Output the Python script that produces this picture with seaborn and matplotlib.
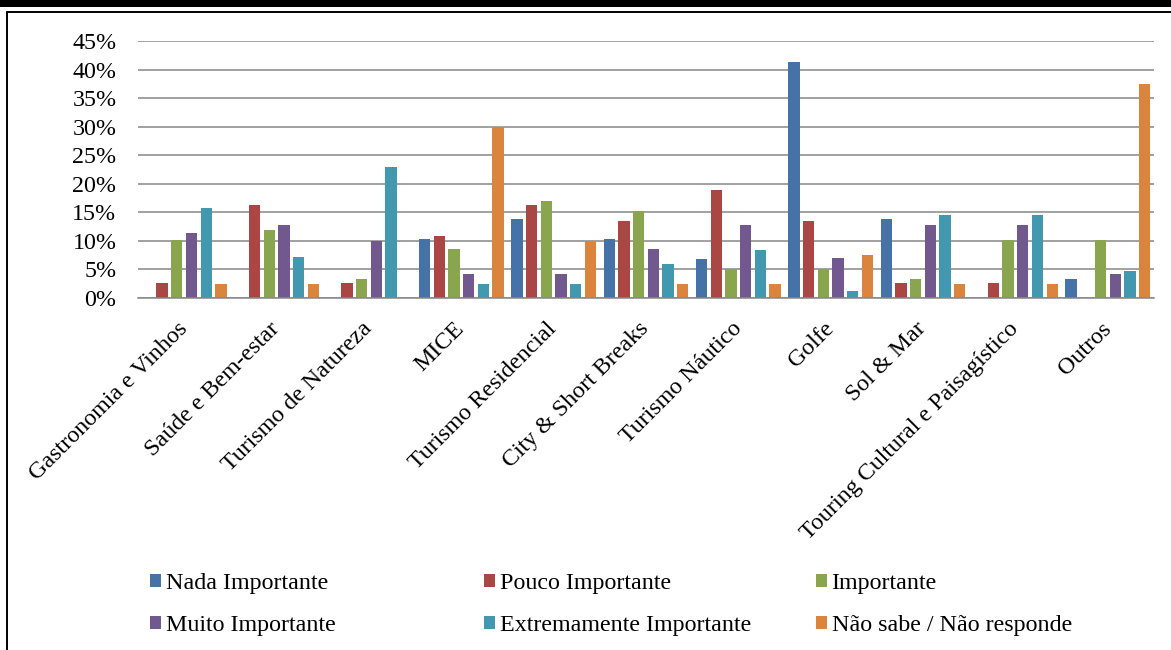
import matplotlib
matplotlib.use("Agg")
import matplotlib.pyplot as plt
from matplotlib.lines import Line2D
from matplotlib.patches import Rectangle, Patch
from matplotlib.ticker import PercentFormatter
import seaborn as sns
import pandas as pd

# Tourism products (x categories)
categories = [
    "Gastronomia e Vinhos", "Saúde e Bem-estar", "Turismo de Natureza", "MICE",
    "Turismo Residencial", "City & Short Breaks", "Turismo Náutico", "Golfe",
    "Sol & Mar", "Touring Cultural e Paisagístico", "Outros",
]

# Importance levels (legend entries)
levels = [
    "Nada Importante", "Pouco Importante", "Importante",
    "Muito Importante", "Extremamente Importante", "Não sabe / Não responde",
]

# Share of answers per level, in percent
nada_importante = [0.0, 0.0, 0.0, 10.3, 13.8, 10.3, 6.9, 41.4, 13.8, 0.0, 3.4]
pouco_importante = [2.7, 16.2, 2.7, 10.8, 16.2, 13.5, 18.9, 13.5, 2.7, 2.7, 0.0]
importante = [10.2, 11.9, 3.4, 8.5, 16.9, 15.3, 5.1, 5.1, 3.4, 10.2, 10.2]
muito_importante = [11.3, 12.7, 9.9, 4.2, 4.2, 8.5, 12.7, 7.0, 12.7, 12.7, 4.2]
extremamente_importante = [15.7, 7.2, 22.9, 2.4, 2.4, 6.0, 8.4, 1.2, 14.5, 14.5, 4.8]
nao_sabe = [2.5, 2.5, 0.0, 30.0, 10.0, 2.5, 2.5, 7.5, 2.5, 2.5, 37.5]

y_ticks = [0, 5, 10, 15, 20, 25, 30, 35, 40, 45]

series = [nada_importante, pouco_importante, importante,
          muito_importante, extremamente_importante, nao_sabe]
colors = ["#4572A7", "#AA4643", "#89A54E", "#71588F", "#4198AF", "#DB843D"]

rows = []
for level, vals in zip(levels, series):
    for cat, v in zip(categories, vals):
        rows.append({"Produto": cat, "Nível": level, "Valor": v})
df = pd.DataFrame(rows)

sns.set_theme(style="white")
plt.rcParams["font.family"] = ["Liberation Serif", "DejaVu Serif"]
plt.rcParams["text.color"] = "black"
FS = 17.3

fig = plt.figure(figsize=(11.71, 6.5), dpi=100)
ax = fig.add_axes([138 / 1171, 1 - 298 / 650, (1154 - 138) / 1171, (298 - 41) / 650])

sns.barplot(
    data=df, x="Produto", y="Valor", hue="Nível",
    order=categories, hue_order=levels, palette=colors,
    width=0.954, gap=0.23, linewidth=0, saturation=1,
    legend=False, ax=ax,
)

ax.set_ylim(0, 45)
ax.set_xlim(-0.5, len(categories) - 0.5)
ax.set_yticks(y_ticks)
ax.yaxis.set_major_formatter(PercentFormatter(decimals=0))
ax.yaxis.grid(True, color="#878787", linewidth=1.1)
ax.set_axisbelow(True)
for side in ["top", "right", "left"]:
    ax.spines[side].set_visible(False)
ax.spines["bottom"].set_color("#878787")
ax.spines["bottom"].set_linewidth(1.1)
ax.set_xlabel("")
ax.set_ylabel("")
ax.tick_params(axis="both", length=0, labelsize=FS, colors="black")
ax.tick_params(axis="y", pad=15.5)
ax.tick_params(axis="x", pad=20)
ax.set_xticks(range(len(categories)))
ax.set_xticklabels(categories, rotation=45, ha="right", va="center", rotation_mode="anchor")

# Legend: three columns of two entries, placed at fixed column positions
col_x = [150 / 1171, 484 / 1171, 816 / 1171]
for c in range(3):
    idx = [c, c + 3]
    handles = [Patch(facecolor=colors[i], edgecolor="none") for i in idx]
    fig.legend(
        handles, [levels[i] for i in idx],
        loc="upper left", bbox_to_anchor=(col_x[c], 1 - 573 / 650),
        frameon=False, fontsize=FS, handlelength=0.45, handleheight=0.45,
        handletextpad=0.2, labelspacing=0.88, borderpad=0, borderaxespad=0,
        labelcolor="black",
    )

# Page frame around the chart
fig.add_artist(Rectangle((0, 1 - 7 / 650), 1, 7 / 650, transform=fig.transFigure,
                         facecolor="black", edgecolor="none"))
fig.add_artist(Line2D([7 / 1171, 1], [1 - 11.8 / 650, 1 - 11.8 / 650],
                      transform=fig.transFigure, color="black", linewidth=1.4))
fig.add_artist(Line2D([7.3 / 1171, 7.3 / 1171], [0, 1 - 11.8 / 650],
                      transform=fig.transFigure, color="black", linewidth=1.4))

fig.savefig("out.png", dpi=100)
